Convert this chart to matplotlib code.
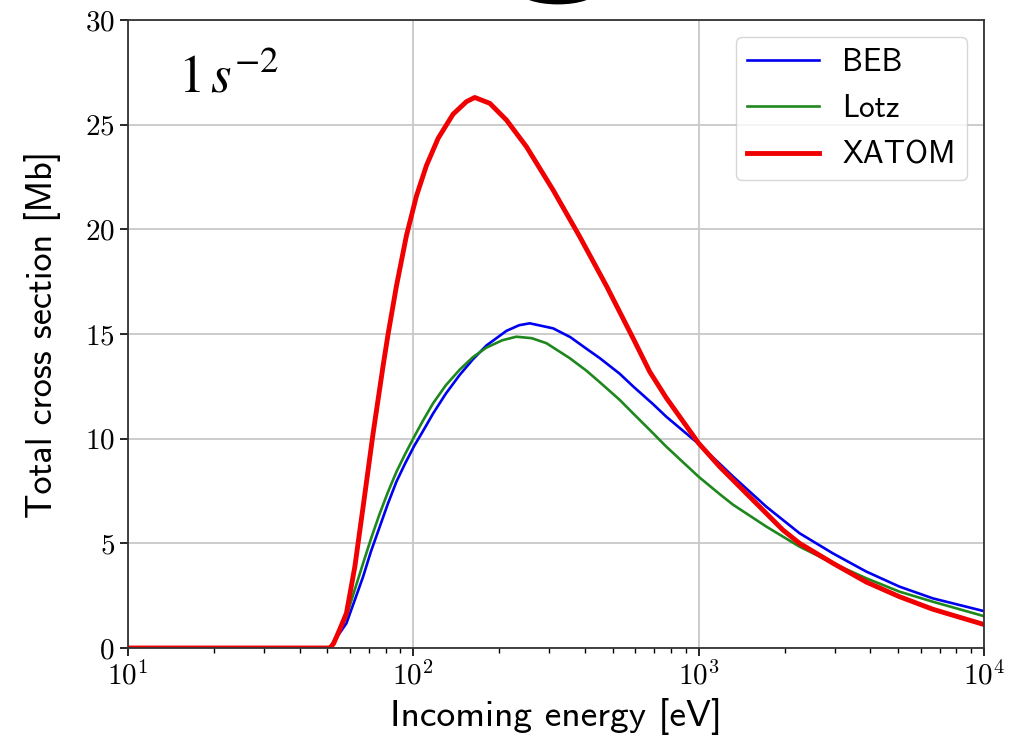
import matplotlib
matplotlib.use("Agg")
import matplotlib.pyplot as plt
from matplotlib.patches import Ellipse

# ============================================================================
# Data
# ============================================================================

beb_energy = [10, 51, 54.5, 58.3, 62.4, 66.7, 71, 76.3, 81.5, 87.3, 93.5, 100.7, 108, 117.3,
              130, 145.5, 162, 180.4, 212, 235, 256, 309, 355, 404, 450, 529, 589, 692, 770,
              1000, 1185, 1318, 1726, 2258, 2954, 3867, 5057, 6618, 10000]
beb_xs = [0, 0, 0.6, 1.18, 2.3, 3.41, 4.6, 5.8, 6.9, 7.95, 8.8, 9.65, 10.35, 11.2,
          12.15, 13.05, 13.8, 14.45, 15.15, 15.42, 15.51, 15.27, 14.85, 14.3, 13.85, 13.1,
          12.5, 11.65, 11.05, 9.75, 8.8, 8.2, 6.75, 5.48, 4.52, 3.65, 2.93, 2.37, 1.76]

lotz_energy = [10, 51, 54.5, 58.3, 62.4, 66.7, 71, 76.3, 81.5, 87.3, 93.5, 100.7, 108, 117.3,
               130, 145.5, 162, 180.4, 205, 229.6, 260, 292.8, 353, 404, 450, 529, 589, 692,
               770, 1000, 1185, 1318, 1726, 2258, 2954, 3867, 5057, 6618, 10000]
lotz_xs = [0, 0, 0.7, 1.5, 2.8, 4.05, 5.2, 6.43, 7.45, 8.42, 9.25, 10.09, 10.85, 11.69,
           12.55, 13.3, 13.9, 14.35, 14.7, 14.87, 14.8, 14.56, 13.85, 13.25, 12.7, 11.85,
           11.21, 10.26, 9.62, 8.18, 7.35, 6.85, 5.8, 4.84, 4.05, 3.33, 2.69, 2.21, 1.52]

xatom_energy = [10, 51, 52.5, 54.5, 58.3, 62.4, 66.7, 72.3, 78.4, 81.6, 87.3, 94.6, 102.6,
                111.2, 122.2, 137.8, 153.5, 164.2, 185.4, 212.1, 249.1, 308.9, 383, 475,
                589, 673.6, 770, 1000, 1185, 1318, 1726, 1972, 2258, 2954, 3867, 5057,
                6618, 10000]
xatom_xs = [0, 0, 0.2, 0.7, 1.66, 3.89, 6.75, 10.26, 13.5, 15.0, 17.3, 19.7, 21.6,
            23.05, 24.35, 25.5, 26.1, 26.3, 26.02, 25.22, 23.95, 21.88, 19.65, 17.3,
            14.8, 13.2, 11.95, 9.78, 8.66, 8.03, 6.43, 5.64, 5.0, 4.05, 3.15, 2.45,
            1.85, 1.12]

x_limits = [10, 1e4]
y_limits = [0, 30]
y_ticks = [0, 5, 10, 15, 20, 25, 30]

# ============================================================================
# Plot
# ============================================================================

plt.rcParams["font.family"] = "cmr10"
plt.rcParams["mathtext.fontset"] = "cm"
plt.rcParams["axes.formatter.use_mathtext"] = True

fig = plt.figure(figsize=(10.18, 7.36), dpi=100)
ax = fig.add_axes([0.1257, 0.1196, 0.8409, 0.8532])

ax.plot(beb_energy, beb_xs, color="#0000f0", lw=1.9, label="BEB")
ax.plot(lotz_energy, lotz_xs, color="#1e881e", lw=1.9, label="Lotz")
ax.plot(xatom_energy, xatom_xs, color="#f00000", lw=3.5, label="XATOM")

ax.set_xscale("log")
ax.set_xlim(x_limits)
ax.set_ylim(y_limits)
ax.set_yticks(y_ticks)
ax.grid(True, which="major", color="#c8c8c8", lw=1.3)
ax.tick_params(labelsize=21, width=1.2, length=6)
ax.tick_params(which="minor", width=1.0, length=3.5)
for s in ax.spines.values():
    s.set_linewidth(1.3)
    s.set_color("#333333")

ax.set_xlabel("Incoming energy [eV]", family="cmss10", fontsize=27, labelpad=5)
ax.set_ylabel("Total cross section [Mb]", family="cmss10", fontsize=26, labelpad=17)

leg = ax.legend(loc="upper right", prop={"family": "cmss10", "size": 22.5},
                handlelength=2.3, borderaxespad=0.55, borderpad=0.35,
                labelspacing=0.55, handletextpad=0.75)

ax.text(0.058, 0.885, r"$1\,s^{-2}$", transform=ax.transAxes, fontsize=38,
        va="baseline", ha="left", math_fontfamily="stix")

# dark blob cut off at the top edge
fig.patches.append(Ellipse((0.548, 1.012), 0.076, 0.036, transform=fig.transFigure,
                           facecolor="black", edgecolor="none", figure=fig))

fig.savefig("out.png", dpi=100)
